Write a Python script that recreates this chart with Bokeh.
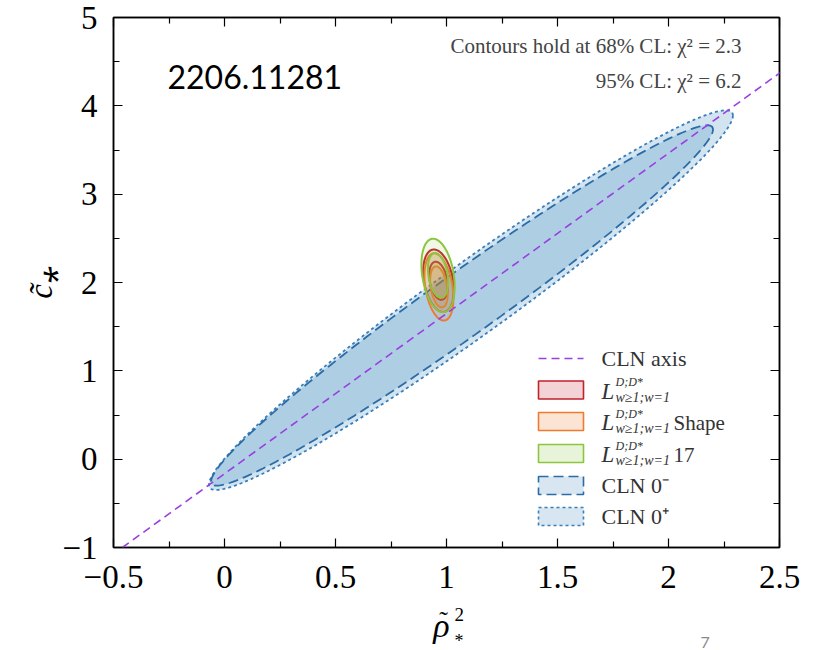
import numpy as np
from bokeh.plotting import figure
from bokeh.layouts import column
from bokeh.models import Label, Slope, LinearAxis, FixedTicker, Range1d
from bokeh.embed import file_html
from bokeh.resources import INLINE

# ---------------- data ----------------
x_ticks = [-0.5, 0, 0.5, 1, 1.5, 2, 2.5]
x_tick_labels = ["\u22120.5", "0", "0.5", "1", "1.5", "2", "2.5"]
x_minor_ticks = [-0.25, 0.25, 0.75, 1.25, 1.75, 2.25]
y_ticks = [-1, 0, 1, 2, 3, 4, 5]
y_tick_labels = ["\u22121", "0", "1", "2", "3", "4", "5"]
y_minor_ticks = [-0.5, 0.5, 1.5, 2.5, 3.5, 4.5]

chi2_levels = [2.3, 6.2]          # 68% CL, 95% CL

# CLN axis  c~* = slope * rho~*^2 + intercept
cln_axis_slope = 1.814
cln_axis_intercept = -0.165

# L fits: central values, uncertainties, correlation
fit_labels = ["", "Shape", "17"]
fit_rho2 = [0.964, 0.966, 0.962]
fit_c = [2.02, 1.95, 2.08]
fit_sig_rho2 = [0.0277, 0.0262, 0.0301]
fit_sig_c = [0.142, 0.153, 0.167]
fit_corr = [-0.30, -0.33, -0.30]
fit_colors = ["#c1222c", "#ef7a2e", "#8cc63f"]

# CLN fits (95% CL contours)
cln_labels = ["CLN 0\u207b", "CLN 0\u207a"]
cln_rho2 = [1.07, 1.11]
cln_c = [1.74, 1.80]
cln_sig_rho2 = [0.454, 0.474]
cln_sig_c = [0.819, 0.863]
cln_corr = [0.977, 0.9725]
cln_line_colors = ["#2c6ca6", "#3a7fba"]
cln_dashes = ["10 5", "3 3"]

# ---------------- geometry helpers ----------------
W, H = 828, 650
MAIN_H = 603
FL, FR, FT, FB = 113, 779, 17, 547
X0, X1, Y0, Y1 = -0.5, 2.5, -1.0, 5.0


def px2x(px):
    return X0 + (px - FL) / (FR - FL) * (X1 - X0)


def py2y(py):
    return Y0 + (FB - py) / (FB - FT) * (Y1 - Y0)


def ellipse(cx, cy, sx, sy, r, chi2, n=241):
    t = np.linspace(0, 2 * np.pi, n)
    k = np.sqrt(chi2)
    x = cx + k * sx * np.cos(t)
    y = cy + k * sy * (r * np.cos(t) + np.sqrt(1 - r * r) * np.sin(t))
    return x, y


SERIF = "Liberation Serif"

p = figure(width=W, height=MAIN_H, x_range=Range1d(X0, X1), y_range=Range1d(Y0, Y1),
           output_backend="svg", toolbar_location=None,
           min_border_left=FL, min_border_right=W - FR,
           min_border_top=FT, min_border_bottom=MAIN_H - FB)
p.grid.visible = False
p.outline_line_color = "black"
p.outline_line_width = 1.5
p.background_fill_color = "white"
p.border_fill_color = "white"


def style_axis(ax, ticks, minor, labels, show):
    ax.ticker = FixedTicker(ticks=ticks, minor_ticks=minor)
    ax.axis_line_color = "black"
    ax.axis_line_width = 1.5
    ax.major_tick_in = 9
    ax.major_tick_out = 0
    ax.minor_tick_in = 6
    ax.minor_tick_out = 0
    ax.major_tick_line_color = "black"
    ax.minor_tick_line_color = "black"
    ax.major_tick_line_width = 1.2
    ax.minor_tick_line_width = 1.2
    if show:
        ax.major_label_overrides = {t: l for t, l in zip(ticks, labels)}
        ax.major_label_text_font = SERIF
        ax.major_label_text_font_size = "33px"
        ax.major_label_text_color = "black"
        ax.major_label_standoff = 16
    else:
        ax.major_label_overrides = {t: "" for t in ticks}
        ax.major_label_text_font_size = "0px"
        ax.major_label_standoff = 0


xb = p.xaxis[0]
yl = p.yaxis[0]
style_axis(xb, x_ticks, x_minor_ticks, x_tick_labels, True)
style_axis(yl, y_ticks, y_minor_ticks, y_tick_labels, True)
xb.major_label_standoff = 18
yl.axis_label = "c\u0303\u204e"
yl.axis_label_text_font = SERIF
yl.axis_label_text_font_style = "italic"
yl.axis_label_text_font_size = "33px"
yl.axis_label_text_color = "black"
yl.axis_label_standoff = 0

top_ax = LinearAxis()
style_axis(top_ax, x_ticks, x_minor_ticks, x_tick_labels, False)
p.add_layout(top_ax, "above")
right_ax = LinearAxis()
style_axis(right_ax, y_ticks, y_minor_ticks, y_tick_labels, False)
p.add_layout(right_ax, "right")

# ---------------- CLN contours ----------------
cln_xy = [ellipse(cln_rho2[i], cln_c[i], cln_sig_rho2[i], cln_sig_c[i], cln_corr[i], chi2_levels[1])
          for i in range(len(cln_labels))]
for (ex, ey) in reversed(cln_xy):
    p.patch(ex, ey, fill_color="#1f77b4", fill_alpha=0.2, line_alpha=0)
for i in reversed(range(len(cln_xy))):
    ex, ey = cln_xy[i]
    p.line(ex, ey, line_color=cln_line_colors[i], line_dash=cln_dashes[i], line_width=1.8)

# ---------------- CLN axis ----------------
p.add_layout(Slope(gradient=cln_axis_slope, y_intercept=cln_axis_intercept,
                   line_color="#9a3fe0", line_dash="8 5", line_width=1.6))

# ---------------- L fits ----------------
for i in range(len(fit_rho2)):
    for lev in chi2_levels:
        ex, ey = ellipse(fit_rho2[i], fit_c[i], fit_sig_rho2[i], fit_sig_c[i], fit_corr[i], lev)
        p.patch(ex, ey, fill_color=fit_colors[i], fill_alpha=0.13,
                line_color=fit_colors[i], line_width=2)

# ---------------- legend (manual) ----------------
row_py = [358, 389.5, 421, 453, 485, 516]
sw_l, sw_r, sw_h = px2x(538), px2x(583), 18
txt_x = px2x(601)
TXT = "#333333"

p.line([sw_l, sw_r], [py2y(row_py[0])] * 2, line_color="#9a3fe0", line_dash="8 5", line_width=1.6)
p.add_layout(Label(x=txt_x, y=py2y(row_py[0]), text="CLN axis", text_baseline="middle",
                   text_font=SERIF, text_font_size="22px", text_color=TXT))

for i in range(len(fit_labels)):
    r = row_py[1 + i]
    p.quad(left=sw_l, right=sw_r, top=py2y(r - sw_h / 2), bottom=py2y(r + sw_h / 2),
           fill_color=fit_colors[i], fill_alpha=0.2, line_color=fit_colors[i], line_width=1.6)
    p.add_layout(Label(x=txt_x, y=py2y(r + 1), text="L", text_baseline="middle",
                       text_font=SERIF, text_font_style="italic", text_font_size="23px",
                       text_color=TXT))
    p.add_layout(Label(x=px2x(615), y=py2y(r - 8), text="D;D*", text_baseline="middle",
                       text_font=SERIF, text_font_style="italic", text_font_size="12px",
                       text_color=TXT))
    p.add_layout(Label(x=px2x(615), y=py2y(r + 7), text="w\u22651;w=1", text_baseline="middle",
                       text_font=SERIF, text_font_style="italic", text_font_size="14px",
                       text_color=TXT))
    if fit_labels[i]:
        p.add_layout(Label(x=px2x(673), y=py2y(r + 1), text=fit_labels[i], text_baseline="middle",
                           text_font=SERIF, text_font_size="21px", text_color=TXT))

for i in range(len(cln_labels)):
    r = row_py[4 + i]
    p.quad(left=sw_l, right=sw_r, top=py2y(r - sw_h / 2), bottom=py2y(r + sw_h / 2),
           fill_color="#1f77b4", fill_alpha=0.18, line_color=cln_line_colors[i],
           line_dash=cln_dashes[i], line_width=1.6)
    p.add_layout(Label(x=txt_x, y=py2y(r), text=cln_labels[i], text_baseline="middle",
                       text_font=SERIF, text_font_size="22px", text_color=TXT))

# ---------------- annotations ----------------
p.add_layout(Label(x=px2x(741), y=py2y(45), text="Contours hold at 68% CL: \u03c7\u00b2 = 2.3",
                   text_align="right", text_baseline="middle", text_font=SERIF,
                   text_font_size="21px", text_color="#444444"))
p.add_layout(Label(x=px2x(741), y=py2y(80), text="95% CL: \u03c7\u00b2 = 6.2",
                   text_align="right", text_baseline="middle", text_font=SERIF,
                   text_font_size="21px", text_color="#444444"))
p.add_layout(Label(x=px2x(167), y=py2y(76), text="2206.11281", text_baseline="middle",
                   text_font="Lato", text_font_size="32px", text_color="black"))

# ---------------- strip below the plot: x-axis label rho~*^2 ----------------
# (its frame is aligned with the main frame, so x is given in page pixels FL..FR)
s = figure(width=W, height=H - MAIN_H, x_range=Range1d(FL, FR), y_range=Range1d(H, MAIN_H),
           output_backend="svg", toolbar_location=None,
           x_axis_location=None, y_axis_location=None, min_border=0)
s.grid.visible = False
s.outline_line_color = None
s.background_fill_color = "white"
s.border_fill_color = "white"
s.add_layout(Label(x=441, y=625, text="\u03c1", text_align="center",
                   text_baseline="middle", text_font=SERIF, text_font_style="italic",
                   text_font_size="34px", text_color="black"))
s.add_layout(Label(x=443, y=605, text="\u02dc", text_align="center",
                   text_baseline="top", text_font=SERIF,
                   text_font_size="26px", text_color="black"))
s.add_layout(Label(x=454, y=614, text="2", text_baseline="middle",
                   text_font=SERIF, text_font_size="19px", text_color="black"))
s.add_layout(Label(x=454, y=640, text="*", text_baseline="middle",
                   text_font=SERIF, text_font_size="18px", text_color="black"))
s.add_layout(Label(x=700, y=647, text="7", text_baseline="bottom",
                   text_font="Lato", text_font_size="16px", text_color="#8a8a8a"))

layout = column(p, s, spacing=0)
open("out.html", "w").write(file_html(layout, INLINE))
